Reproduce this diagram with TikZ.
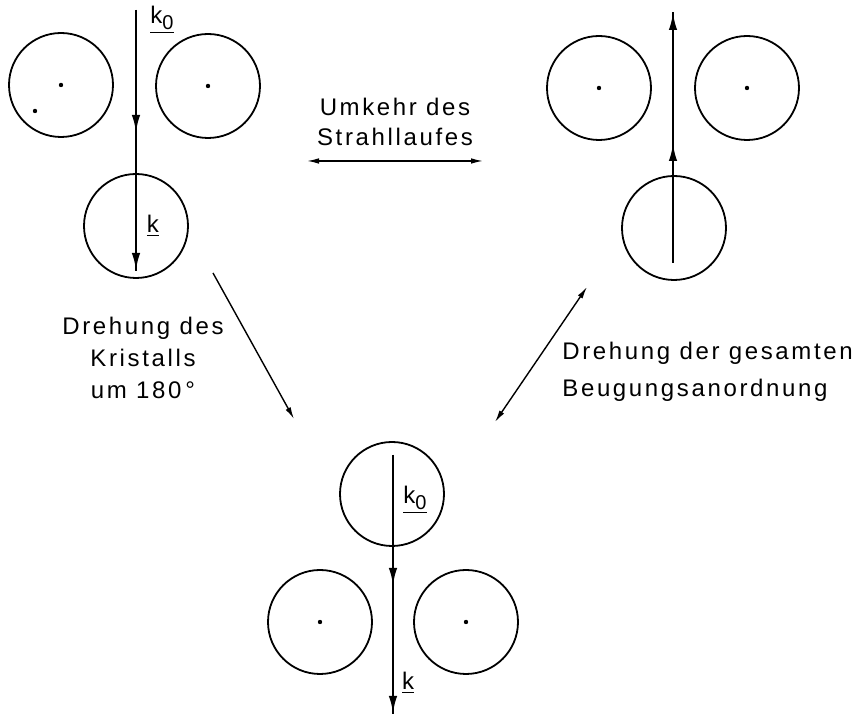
\documentclass[tikz,border=0pt]{standalone}
\usepackage{fontspec}
\setmainfont{Liberation Sans}[LetterSpace=11]
\usetikzlibrary{arrows.meta}
\newcommand{\vecko}{\underline{k\lower0.45ex\hbox{\fontsize{10}{10}\selectfont 0}}}
\newcommand{\veck}{\underline{k}}

\begin{document}
\begin{tikzpicture}[x=0.5pt,y=-0.5pt,
    atom/.style={circle,draw,line width=0.9pt,minimum size=52pt,inner sep=0pt},
    ray/.style={line width=1.3pt},
    beam/.style={line width=1.3pt,-{Latex[length=9pt,width=4.2pt]}},
    turn/.style={line width=0.7pt,-{Latex[length=6pt,width=2.8pt]}},
    both/.style={line width=0.7pt,{Latex[length=6pt,width=2.8pt]}-{Latex[length=6pt,width=2.8pt]}},
    txt/.style={font=\fontsize{12}{15}\selectfont,inner sep=0pt}]
    \useasboundingbox (0,0) rectangle (859,715);

    % oben links
    \node[atom] (A1) at (61,85) {};
    \node[atom] (A2) at (208,86) {};
    \node[atom] (A3) at (136,226) {};
    \fill (A1) circle (1.1pt);
    \fill (35,111) circle (1.1pt);
    \fill (A2) circle (1.1pt);
    \coordinate (a0) at (136,10);
    \coordinate (am) at (136,133);
    \coordinate (a1) at (136,271);
    \draw[ray] (a0) -- (a1);
    \draw[beam] (a0) -- (am);
    \draw[beam] (am) -- (a1);
    \node[txt] (ko1) at (162,20) {\vecko};
    \node[txt] (k1) at (153,226) {\veck};

    % oben rechts
    \node[atom] (B1) at (599,88) {};
    \node[atom] (B2) at (747,88) {};
    \node[atom] (B3) at (674,228) {};
    \fill (B1) circle (1.1pt);
    \fill (B2) circle (1.1pt);
    \coordinate (b0) at (673,263);
    \coordinate (bm) at (673,143);
    \coordinate (b1) at (673,12);
    \draw[ray] (b0) -- (b1);
    \draw[beam] (b0) -- (bm);
    \draw[beam] (bm) -- (b1);

    % unten
    \node[atom] (C1) at (392,494) {};
    \node[atom] (C2) at (320,622) {};
    \node[atom] (C3) at (466,622) {};
    \fill (C2) circle (1.1pt);
    \fill (C3) circle (1.1pt);
    \coordinate (c0) at (393,455);
    \coordinate (cm) at (393,586);
    \coordinate (c1) at (393,714);
    \draw[ray] (c0) -- (c1);
    \draw[beam] (c0) -- (cm);
    \draw[beam] (cm) -- (c1);
    \node[txt] (ko2) at (415,500) {\vecko};
    \node[txt] (k2) at (408,683) {\veck};

    % Uebergaenge
    \node[txt,align=center] (umk) at (395,122) {Umkehr des\\Strahllaufes};
    \coordinate (u0) at (307,161);
    \coordinate (u1) at (483,161);
    \draw[both] (u0) -- (u1);

    \node[txt,align=center] (dk) at (143,358) {Drehung des\\[1pt]Kristalls\\[1pt]um 180\,°};
    \coordinate (d0) at (213,273);
    \coordinate (d1) at (294,419);
    \draw[turn] (d0) -- (d1);

    \node[txt,align=left,anchor=west] (dg) at (562,372) {Drehung der gesamten\\[3.5pt]Beugungsanordnung};
    \coordinate (g0) at (587,287);
    \coordinate (g1) at (495,422);
    \draw[both] (g0) -- (g1);
\end{tikzpicture}
\end{document}
